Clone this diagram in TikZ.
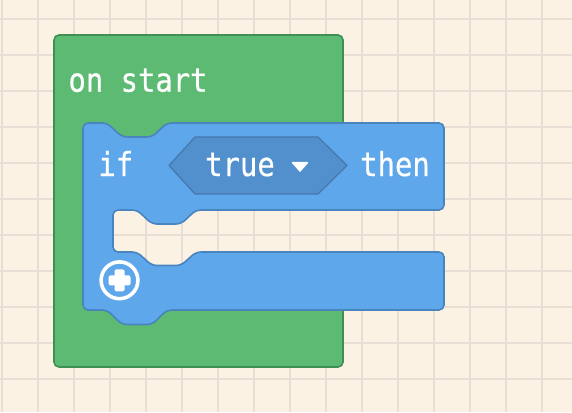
\documentclass[tikz,border=0pt]{standalone}
\usepackage{fontspec}
\newfontfamily\blockfont[FakeStretch=0.875,FakeBold=0.5]{DejaVu Sans Mono}
\definecolor{bgc}{HTML}{FCF2E3}
\definecolor{gridc}{HTML}{E9DED6}
\definecolor{greenfill}{HTML}{5CBA73}
\definecolor{greenline}{HTML}{3D8F52}
\definecolor{bluefill}{HTML}{5EA7EA}
\definecolor{blueline}{HTML}{4A84BF}
\definecolor{hexfill}{HTML}{5190CC}
\definecolor{hexline}{HTML}{4577AE}
\tikzset{
  blocktext/.style={text=white, font=\blockfont\fontsize{33}{33}\selectfont, inner sep=0pt, anchor=base},
  gridline/.style={draw=gridc, line width=1.2pt},
  greenblock/.style={fill=greenfill, draw=greenline, line width=1.6pt, line join=round},
  blueblock/.style={fill=bluefill, draw=blueline, line width=1.6pt, line join=round},
  hexblock/.style={fill=hexfill, draw=hexline, line width=1.2pt, line join=round}
}
\begin{document}
\begin{tikzpicture}[x=1pt,y=-1pt]
\useasboundingbox (0,0) rectangle (572,412);
\fill[bgc] (0,0) rectangle (572,412);
% grid
\foreach \gx in {2,38,...,542} \draw[gridline] (\gx,0) -- (\gx,412);
\foreach \gy in {19,55,...,379} \draw[gridline] (0,\gy) -- (572,\gy);
% green "on start" C-block
\draw[greenblock, rounded corners=5pt]
  (54,35) -- (343,35) -- (343,140) -- (83,140) -- (83,270) -- (343,270) -- (343,367) -- (54,367) -- cycle;
% blue "if" block
\draw[blueblock, rounded corners=5pt]
  (83,123) -- (107,123) -- (122,137) -- (152,137) -- (167,123)
  -- (444,123) -- (444,210)
  -- (196,210) -- (181,224) -- (152,224) -- (137,210)
  -- (113,210) -- (113,252)
  -- (137,252) -- (152,265.5) -- (181,265.5) -- (196,252)
  -- (444,252) -- (444,310)
  -- (167,310) -- (152,324.5) -- (122,324.5) -- (107,310)
  -- (83,310) -- cycle;
% boolean "true" hexagon
\draw[hexblock] (169,165.5) -- (195,137) -- (318,137) -- (347,165.5) -- (318,194) -- (195,194) -- cycle;
% dropdown arrow
\fill[white, draw=white, line width=1.5pt, line join=round] (292.5,162.5) -- (307.5,162.5) -- (300,171) -- cycle;
% plus button
\draw[white, line width=3.6pt] (119.5,280.3) circle (18.4);
\fill[white, rounded corners=1.5pt] (108.5,275.3) rectangle (130.5,285.3);
\fill[white, rounded corners=1.5pt] (114.5,269.3) rectangle (124.5,291.3);
% texts
\node[blocktext] (onstart) at (138,91.7) {on start};
\node[blocktext] (iftext) at (115.8,176) {if};
\node[blocktext] (truetext) at (240,176) {true};
\node[blocktext] (thentext) at (395,176) {then};
\end{tikzpicture}
\end{document}
